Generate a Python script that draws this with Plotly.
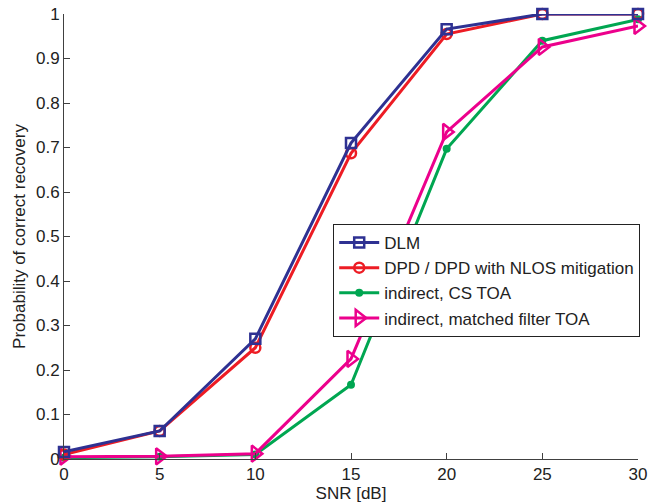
import plotly.graph_objects as go

snr = [0, 5, 10, 15, 20, 25, 30]
dlm = [0.016, 0.063, 0.270, 0.710, 0.966, 1.000, 1.000]
dpd = [0.010, 0.063, 0.250, 0.687, 0.955, 1.000, 1.000]
cs_toa = [0.003, 0.005, 0.010, 0.167, 0.697, 0.940, 0.988]
mf_toa = [0.005, 0.006, 0.012, 0.225, 0.735, 0.926, 0.973]

names = ["DLM", "DPD / DPD with NLOS mitigation", "indirect, CS TOA", "indirect, matched filter TOA"]
colors = ["#2e3192", "#ed1c24", "#00a651", "#ec008c"]

fig = go.Figure()
# drawing order: green, magenta, red, blue (legend order kept via legendrank)
fig.add_trace(go.Scatter(x=snr, y=cs_toa, name=names[2], mode="lines+markers",
                         line=dict(color=colors[2], width=3),
                         marker=dict(symbol="circle", size=8, color=colors[2]),
                         legendrank=3, cliponaxis=False))
fig.add_trace(go.Scatter(x=snr, y=mf_toa, name=names[3], mode="lines+markers",
                         line=dict(color=colors[3], width=3),
                         marker=dict(symbol="triangle-right-open", size=14, color=colors[3],
                                     line=dict(width=2.5)),
                         legendrank=4, cliponaxis=False))
fig.add_trace(go.Scatter(x=snr, y=dpd, name=names[1], mode="lines+markers",
                         line=dict(color=colors[1], width=3),
                         marker=dict(symbol="circle-open", size=10, color=colors[1],
                                     line=dict(width=2.5)),
                         legendrank=2, cliponaxis=False))
fig.add_trace(go.Scatter(x=snr, y=dlm, name=names[0], mode="lines+markers",
                         line=dict(color=colors[0], width=3),
                         marker=dict(symbol="square-open", size=10, color=colors[0],
                                     line=dict(width=2.5)),
                         legendrank=1, cliponaxis=False))

axis_common = dict(showgrid=False, zeroline=False, showline=True, linecolor="#404040",
                   linewidth=1, ticks="inside", ticklen=6, tickcolor="#404040",
                   tickfont=dict(size=17, color="#222222"), mirror=False, automargin=False)

fig.update_layout(
    width=661, height=503,
    margin=dict(l=64, r=23, t=14, b=44),
    paper_bgcolor="white", plot_bgcolor="white",
    font=dict(family="Liberation Sans, Arial, sans-serif", size=17, color="#222222"),
    xaxis=dict(range=[0, 30], tickvals=[0, 5, 10, 15, 20, 25, 30],
               title=dict(text="SNR [dB]", standoff=2, font=dict(size=17)), **axis_common),
    yaxis=dict(range=[0, 1], tickvals=[0, 0.1, 0.2, 0.3, 0.4, 0.5, 0.6, 0.7, 0.8, 0.9, 1],
               ticktext=["0", "0.1", "0.2", "0.3", "0.4", "0.5", "0.6", "0.7", "0.8", "0.9", "1"],
               title=dict(text="Probability of correct recovery", standoff=6, font=dict(size=17)),
               **axis_common),
    legend=dict(x=0.469, y=0.528, xanchor="left", yanchor="top",
                bgcolor="white", bordercolor="#222222", borderwidth=1,
                font=dict(size=17), tracegroupgap=0, itemwidth=40),
    showlegend=True,
)

fig.write_html("out.html")
